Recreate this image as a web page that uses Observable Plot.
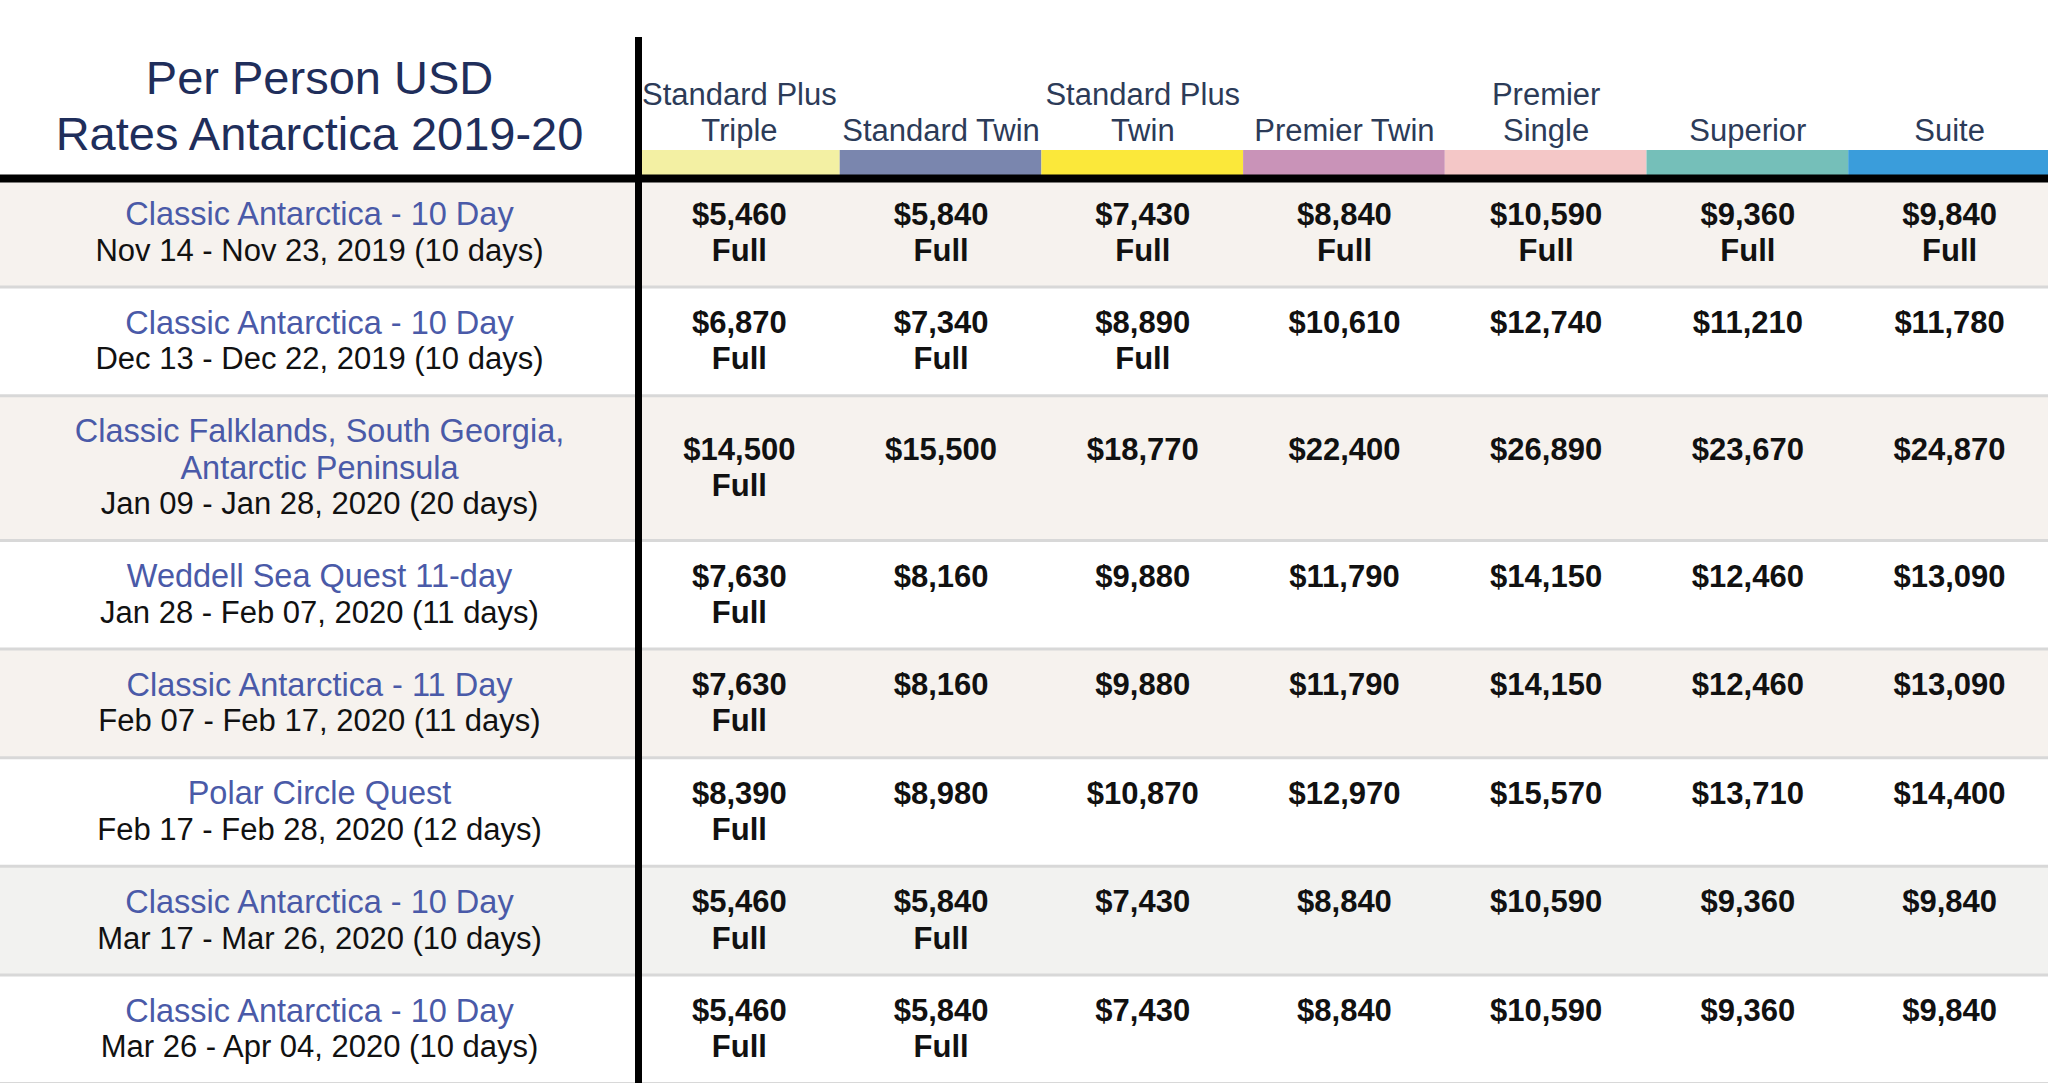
<!DOCTYPE html>
<html>
<head>
<meta charset="utf-8">
<script src="https://cdn.jsdelivr.net/npm/d3@7"></script>
<script src="https://cdn.jsdelivr.net/npm/@observablehq/plot@0.6"></script>
<style>
  html, body { margin: 0; padding: 0; background: #ffffff; }
  svg { display: block; }
</style>
</head>
<body>
<div id="chart"></div>
<script>
// ---------- data ----------
const titleLines = ["Per Person USD", "Rates Antarctica 2019-20"];
const cabins = ["Standard Plus\nTriple", "Standard Twin", "Standard Plus\nTwin", "Premier Twin", "Premier\nSingle", "Superior", "Suite"];
const trips = [
  "Classic Antarctica - 10 Day",
  "Classic Antarctica - 10 Day",
  "Classic Falklands, South Georgia,\nAntarctic Peninsula",
  "Weddell Sea Quest 11-day",
  "Classic Antarctica - 11 Day",
  "Polar Circle Quest",
  "Classic Antarctica - 10 Day",
  "Classic Antarctica - 10 Day"
];
const dates = [
  "Nov 14 - Nov 23, 2019 (10 days)",
  "Dec 13 - Dec 22, 2019 (10 days)",
  "Jan 09 - Jan 28, 2020 (20 days)",
  "Jan 28 - Feb 07, 2020 (11 days)",
  "Feb 07 - Feb 17, 2020 (11 days)",
  "Feb 17 - Feb 28, 2020 (12 days)",
  "Mar 17 - Mar 26, 2020 (10 days)",
  "Mar 26 - Apr 04, 2020 (10 days)"
];
const prices = [
  [5460, 5840, 7430, 8840, 10590, 9360, 9840],
  [6870, 7340, 8890, 10610, 12740, 11210, 11780],
  [14500, 15500, 18770, 22400, 26890, 23670, 24870],
  [7630, 8160, 9880, 11790, 14150, 12460, 13090],
  [7630, 8160, 9880, 11790, 14150, 12460, 13090],
  [8390, 8980, 10870, 12970, 15570, 13710, 14400],
  [5460, 5840, 7430, 8840, 10590, 9360, 9840],
  [5460, 5840, 7430, 8840, 10590, 9360, 9840]
];
// number of leading cabins marked "Full" in each departure
const fullCount = [7, 3, 1, 1, 1, 1, 2, 2];

// ---------- styles ----------
const cabinColors = ["#f3f0a3", "#7a86ae", "#fbe83a", "#c993b8", "#f4c7c7", "#75bfb9", "#3a9ddb"];
const rowFill = i => i === 6 ? "#f2f2f0" : (i % 2 === 0 ? "#f6f2ee" : "#ffffff");
const FONT = "Liberation Sans, Arial, Helvetica, sans-serif";

// ---------- layout ----------
const W = 2048, H = 1083;
const LINE = 36.2;              // px per text line (y unit)
const colW = 201.7, splitX = 638;
const xDomain = [-splitX / colW, (W - splitX) / colW];
const yDomain = [0, H / LINE];
const headerBottom = 178 / LINE;
const leftX = xDomain[0] / 2;

// rows: height in line units = lines + 1
let acc = headerBottom;
const rows = trips.map((t, i) => {
  const lines = [...t.split("\n"), dates[i]];
  const h = Math.max(lines.length, 2) + 1;
  const r = {i, top: acc, bottom: acc + h, center: acc + h / 2, lines, nameCount: lines.length - 1};
  acc += h;
  return r;
});

const nameLines = [], dateLines = [];
rows.forEach(r => {
  r.lines.forEach((txt, k) => {
    const y = r.center + (k - (r.lines.length - 1) / 2);
    (k < r.nameCount ? nameLines : dateLines).push({x: leftX, y, text: txt});
  });
});

const valueLines = [];
rows.forEach(r => {
  prices[r.i].forEach((v, c) => {
    valueLines.push({x: c + 0.5, y: r.center - 0.5, text: "$" + d3.format(",")(v)});
    if (c < fullCount[r.i]) valueLines.push({x: c + 0.5, y: r.center + 0.5, text: "Full"});
  });
});

const headerLast = 130.6 / LINE;
const headerLines = [];
cabins.forEach((lab, c) => {
  const parts = lab.split("\n");
  parts.forEach((p, k) => headerLines.push({x: c + 0.5, y: headerLast - (parts.length - 1 - k), text: p}));
});
const titleData = titleLines.map((t, k) => ({x: leftX, y: (78 + k * 56) / LINE, text: t}));

const bars = cabins.map((c, i) => ({x1: i, x2: i + 1, fill: cabinColors[i]}));

const chart = Plot.plot({
  width: W,
  height: H,
  margin: 0,
  style: {background: "#ffffff", fontFamily: FONT},
  x: {domain: xDomain, range: [0, W], axis: null},
  y: {domain: yDomain, range: [0, H], axis: null},
  marks: [
    Plot.rect(rows, {x1: xDomain[0], x2: xDomain[1], y1: "top", y2: "bottom", fill: d => rowFill(d.i)}),
    Plot.ruleY(rows, {y: "bottom", stroke: "#d8d8d8", strokeWidth: 3}),
    Plot.rect(bars, {x1: "x1", x2: "x2", y1: 150 / LINE, y2: headerBottom, fill: "fill"}),
    Plot.ruleY([headerBottom], {stroke: "#000", strokeWidth: 8}),
    Plot.ruleX([0], {y1: 37 / LINE, y2: yDomain[1], stroke: "#000", strokeWidth: 7}),
    Plot.text(titleData, {x: "x", y: "y", text: "text", fontSize: 47, fill: "#1f2e5b", fontFamily: FONT}),
    Plot.text(headerLines, {x: "x", y: "y", text: "text", fontSize: 31, fill: "#2c3b58", fontFamily: FONT}),
    Plot.text(nameLines, {x: "x", y: "y", text: "text", fontSize: 32.5, fill: "#4a5aa8", fontFamily: FONT}),
    Plot.text(dateLines, {x: "x", y: "y", text: "text", fontSize: 31, fill: "#111111", fontFamily: FONT}),
    Plot.text(valueLines, {x: "x", y: "y", text: "text", fontSize: 31, fontWeight: "bold", fill: "#111111", fontFamily: FONT})
  ]
});
document.getElementById("chart").append(chart);
</script>
</body>
</html>
